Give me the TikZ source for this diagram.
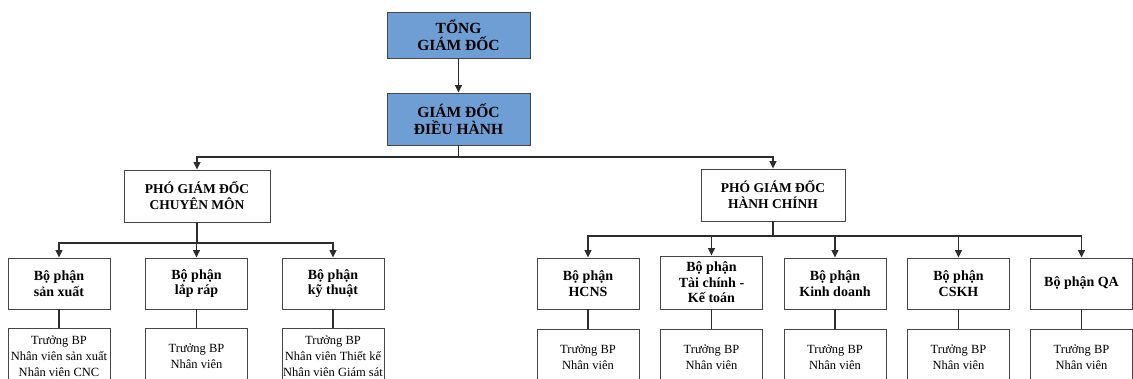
\documentclass[tikz,border=0pt]{standalone}
\usepackage{fontspec}
\setmainfont{Liberation Serif}
\usetikzlibrary{arrows.meta}
\definecolor{topblue}{RGB}{111,158,212}
\definecolor{boxline}{RGB}{70,70,70}
\definecolor{connline}{RGB}{45,45,45}
\tikzset{
  base/.style={draw=boxline, line width=0.9pt, inner sep=0pt, align=center},
  topbox/.style={base, fill=topblue, minimum width=143pt,
    font=\fontsize{15.5}{17}\selectfont\bfseries},
  vicebox/.style={base, fill=white, minimum height=52pt,
    font=\fontsize{13.5}{16}\selectfont\bfseries},
  deptbox/.style={base, fill=white, minimum width=102pt, minimum height=51pt,
    font=\fontsize{14}{15.5}\selectfont\bfseries},
  staffbox/.style={base, fill=white, minimum width=102pt, minimum height=56pt,
    font=\fontsize{12.5}{16}\selectfont},
  conn/.style={draw=connline, line width=1.1pt},
  arr/.style={conn, -{Triangle[length=7.5pt,width=7pt]}}
}
\begin{document}
\begin{tikzpicture}[x=1pt,y=-1pt]
\useasboundingbox (0,0) rectangle (1133,379);
\clip (0,0) rectangle (1133,379);
\fill[white] (0,0) rectangle (1133,379);

% top levels
\node[topbox, minimum height=46pt] (tgd) at (458.5,35) {TỔNG\\GIÁM ĐỐC};
\node[topbox, minimum height=52pt] (gddh) at (458.5,119) {GIÁM ĐỐC\\ĐIỀU HÀNH};

% vice directors
\node[vicebox, minimum width=146pt] (pcm) at (197,196) {PHÓ GIÁM ĐỐC\\CHUYÊN MÔN};
\node[vicebox, minimum width=144pt] (phc) at (773,195) {PHÓ GIÁM ĐỐC\\HÀNH CHÍNH};

% departments (left)
\node[deptbox] (d1) at (59,283.5) {Bộ phận\\sản xuất};
\node[deptbox] (d2) at (196.5,283.5) {Bộ phận\\lắp ráp};
\node[deptbox] (d3) at (333,283.5) {Bộ phận\\kỹ thuật};
% departments (right)
\node[deptbox] (d4) at (588,283.5) {Bộ phận\\HCNS};
\node[deptbox, minimum height=53pt] (d5) at (711.5,282.5) {Bộ phận\\Tài chính -\\Kế toán};
\node[deptbox] (d6) at (835,283.5) {Bộ phận\\Kinh doanh};
\node[deptbox] (d7) at (958.5,283.5) {Bộ phận\\CSKH};
\node[deptbox] (d8) at (1081.5,283.5) {Bộ phận QA};

% staff boxes
\node[staffbox] (s1) at (59,356) {Trưởng BP\\Nhân viên sản xuất\\Nhân viên CNC};
\node[staffbox] (s2) at (196.5,356) {Trưởng BP\\Nhân viên};
\node[staffbox] (s3) at (333,356) {Trưởng BP\\Nhân viên Thiết kế\\Nhân viên Giám sát};
\node[staffbox] (s4) at (588,357) {Trưởng BP\\Nhân viên};
\node[staffbox] (s5) at (711.5,357) {Trưởng BP\\Nhân viên};
\node[staffbox] (s6) at (835,357) {Trưởng BP\\Nhân viên};
\node[staffbox] (s7) at (958.5,357) {Trưởng BP\\Nhân viên};
\node[staffbox] (s8) at (1081.5,357) {Trưởng BP\\Nhân viên};

% connectors
\draw[arr] (tgd.south) -- (gddh.north);

\coordinate (j0) at (458.5,157);
\draw[conn] (gddh.south) -- (j0);
\draw[arr] (j0) -| (pcm.north);
\draw[arr] (j0) -| (phc.north);

\coordinate (j1) at (197,243);
\draw[conn] (pcm.south) -- (j1);
\foreach \d in {d1,d2,d3} \draw[arr] (j1) -| (\d.north);

\coordinate (j2) at (773,236);
\draw[conn] (phc.south) -- (j2);
\foreach \d in {d4,d5,d6,d7,d8} \draw[arr] (j2) -| (\d.north);

\foreach \i in {1,...,8} \draw[conn] (d\i.south) -- (s\i.north);
\end{tikzpicture}
\end{document}
